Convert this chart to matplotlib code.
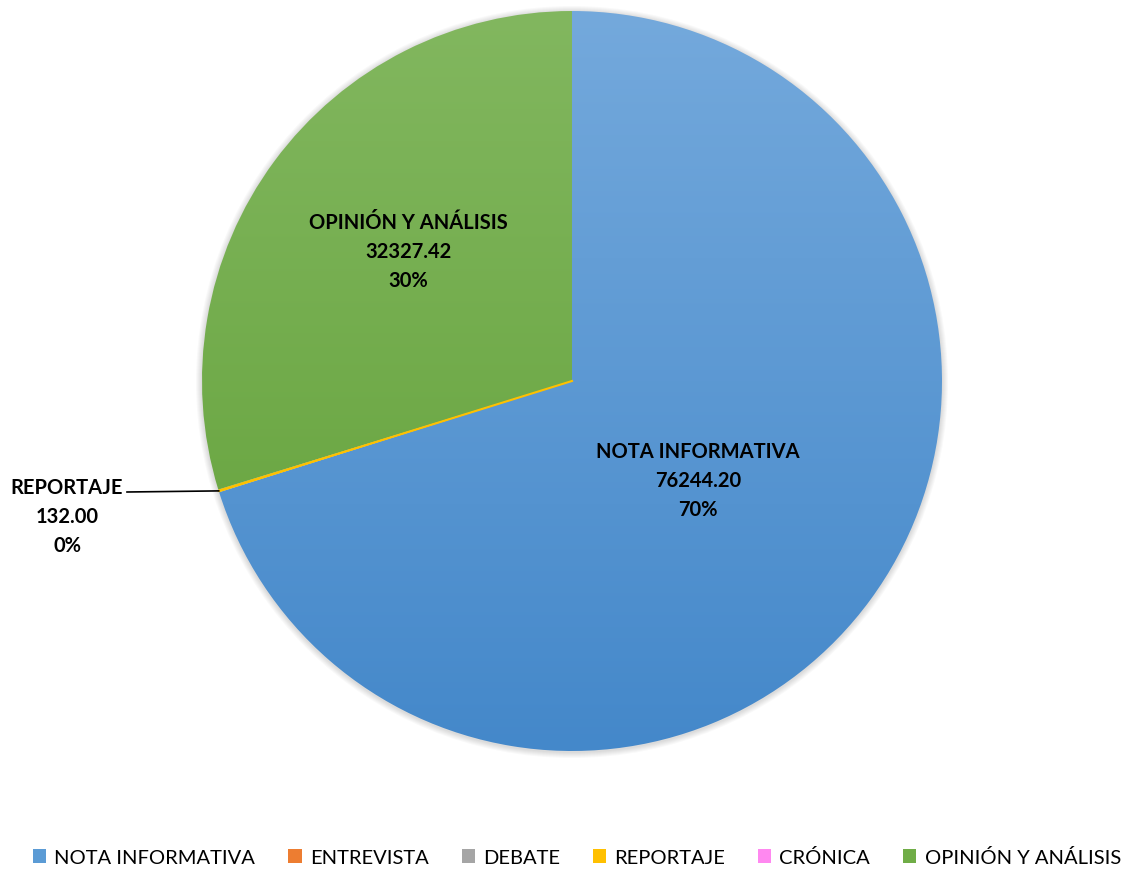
import numpy as np
import matplotlib
matplotlib.use('Agg')
import matplotlib.pyplot as plt
from matplotlib.patches import Patch
from matplotlib.colors import LinearSegmentedColormap

# datos
categorias = ['NOTA INFORMATIVA', 'ENTREVISTA', 'DEBATE', 'REPORTAJE', 'CRÓNICA', 'OPINIÓN Y ANÁLISIS']
valores = [76244.20, 0.0, 0.0, 132.00, 0.0, 32327.42]
colores = ['#5B9BD5', '#ED7D31', '#A5A5A5', '#FFC000', '#FF88F0', '#70AD47']
grad_top = ['#74A9DC', '#F29A5E', '#B8B8B8', '#FFD200', '#FF9CF3', '#82B75F']
grad_bot = ['#4488CA', '#E06A1C', '#8F8F8F', '#F0B800', '#F070E0', '#61A037']

plt.rcParams['font.family'] = ['Lato', 'DejaVu Sans']

fig = plt.figure(figsize=(11.24, 8.70), dpi=100)
ax = fig.add_axes([0, 0, 1, 1])

cx, cy, r = 572, 488, 370

# sombra suave
for i in range(6):
    c = plt.Circle((cx, cy - 1), r + 1 + i, color='black', alpha=0.025, lw=0, zorder=0)
    ax.add_patch(c)

wedges, _ = ax.pie(valores, startangle=90, counterclock=False, center=(cx, cy),
                   radius=r, frame=True)
ax.set_xlim(0, 1124)
ax.set_ylim(0, 870)
ax.set_aspect('equal')
ax.axis('off')

# degradado vertical en cada porción
for w, t, b, v in zip(wedges, grad_top, grad_bot, valores):
    if v <= 0:
        w.set_visible(False)
        continue
    w.set_facecolor('none')
    w.set_edgecolor('none')
    cmap = LinearSegmentedColormap.from_list('g', [b, t])
    grad = np.linspace(0, 1, 256).reshape(-1, 1)
    im = ax.imshow(grad, cmap=cmap, extent=(cx - r, cx + r, cy - r, cy + r),
                   origin='lower', aspect='auto', zorder=1)
    im.set_clip_path(w)

# línea amarilla de REPORTAJE
rep = wedges[3]
ang = np.deg2rad((rep.theta1 + rep.theta2) / 2)
ax.plot([cx, cx + r * np.cos(ang)], [cy, cy + r * np.sin(ang)], color='#FFC000', lw=1.5, zorder=2)

total = sum(valores)
pct = [f'{round(v / total * 100):.0f}%' for v in valores]

kw = dict(ha='center', va='center', fontsize=14.5, fontweight='bold', color='black', zorder=5,
          linespacing=1.55)
ax.text(698, 870 - 481, f'{categorias[0]}\n{valores[0]:.2f}\n{pct[0]}', **kw)
ax.text(408, 870 - 252, f'{categorias[5]}\n{valores[5]:.2f}\n{pct[5]}', **kw)
ax.text(67, 870 - 517, f'{categorias[3]}\n{valores[3]:.2f}\n{pct[3]}', **kw)
ax.plot([127, cx + r * np.cos(ang)], [870 - 493, cy + r * np.sin(ang)], color='black', lw=1.2, zorder=4)

handles = [Patch(facecolor=c, edgecolor='none') for c in colores]
fig.legend(handles, categorias, loc='center', bbox_to_anchor=(577 / 1124, 1 - 858 / 870), ncol=6,
           frameon=False, fontsize=14.5, handlelength=0.65, handleheight=0.65,
           handletextpad=0.4, columnspacing=1.65)

fig.savefig('out.png', dpi=100)
